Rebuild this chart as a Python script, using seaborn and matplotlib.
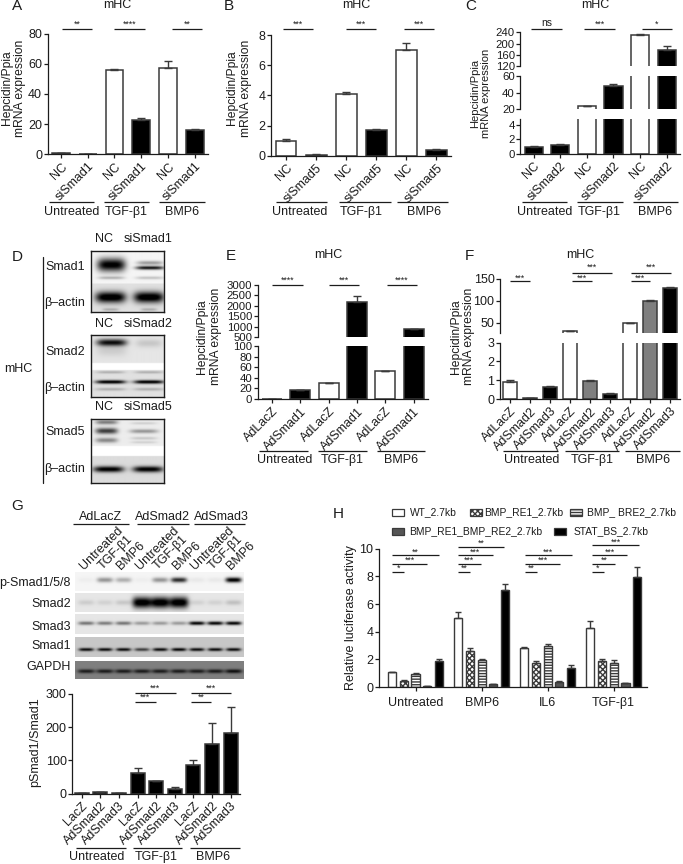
import numpy as np
import pandas as pd
import matplotlib
matplotlib.use('Agg')
import matplotlib.pyplot as plt
from matplotlib.patches import Rectangle
import seaborn as sns

W, H = 683, 864
INK = '#1c1c1c'
EDGE = '#3a3a3a'
GREY = '#7f7f7f'

# Panel data
a_labels = ['NC', 'siSmad1'] * 3
a_vals = [0.8, 0.3, 56, 22.5, 57, 16]
a_errs = [0.1, 0.1, 0.5, 1.5, 5, 1]

b_labels = ['NC', 'siSmad5'] * 3
b_vals = [1.0, 0.07, 4.1, 1.7, 7.0, 0.4]
b_errs = [0.08, 0.02, 0.15, 0.08, 0.5, 0.02]

c_labels = ['NC', 'siSmad2'] * 3
c_vals = [1.0, 1.2, 24, 48, 230, 176]
c_errs = [0.05, 0.1, 0.3, 2, 5, 14]

e_labels = ['AdLacZ', 'AdSmad1'] * 3
e_vals = [0.5, 17, 30, 2200, 52, 880]
e_errs = [0.2, 0.5, 0.8, 250, 0.8, 30]

f_labels = ['AdLacZ', 'AdSmad2', 'AdSmad3'] * 3
f_vals = [0.9, 0.05, 0.62, 31, 0.97, 0.27, 49, 100, 130]
f_errs = [0.1, 0.01, 0.08, 0.3, 0.03, 0.03, 1.5, 2, 1.5]

g_labels = ['LacZ', 'AdSmad2', 'AdSmad3'] * 3
g_vals = [2, 5, 3, 62, 38, 13, 85, 150, 183]
g_errs = [1, 1.5, 0.5, 15, 1, 6, 17, 62, 77]

h_groups = ['Untreated', 'BMP6', 'IL6', 'TGF-β1']
h_series = ['WT_2.7kb', 'BMP_RE1_2.7kb', 'BMP_ BRE2_2.7kb', 'BMP_RE1_BMP_RE2_2.7kb', 'STAT_BS_2.7kb']
h_vals = [[1.05, 5.0, 2.8, 4.25],
          [0.42, 2.6, 1.75, 1.9],
          [0.92, 1.95, 2.95, 1.75],
          [0.08, 0.22, 0.38, 0.28],
          [1.85, 7.0, 1.38, 7.95]]
h_errs = [[0.05, 0.42, 0.07, 0.55],
          [0.05, 0.22, 0.12, 0.1],
          [0.12, 0.05, 0.15, 0.22],
          [0.02, 0.03, 0.03, 0.02],
          [0.15, 0.42, 0.2, 0.7]]

# Blot band strengths, one per lane
g_lanes = [86, 104.7, 123.3, 141.7, 160, 178.7, 196.7, 215, 233.3]
g_psmad = [0.03, 0.38, 0.28, 0.03, 0.38, 0.8, 0.05, 0.05, 1.0]
g_smad2 = [0.1, 0.08, 0.12, 1.0, 1.0, 1.0, 0.08, 0.08, 0.15]
g_smad3 = [0.45, 0.42, 0.45, 0.3, 0.3, 0.3, 0.9, 0.9, 0.9]
g_smad1 = [0.75, 0.75, 0.75, 0.55, 0.75, 0.78, 0.75, 0.75, 0.75]
g_gapdh = [0.4, 0.4, 0.4, 0.4, 0.4, 0.4, 0.4, 0.4, 0.45]

sns.set_theme(style='ticks', rc={
    'axes.linewidth': 0.9, 'axes.edgecolor': INK,
    'xtick.major.width': 0.9, 'ytick.major.width': 0.9,
    'xtick.major.size': 3, 'ytick.major.size': 3,
    'xtick.major.pad': 1.5, 'ytick.major.pad': 1,
    'xtick.labelsize': 9, 'ytick.labelsize': 9,
    'xtick.color': INK, 'ytick.color': INK, 'text.color': INK,
    'hatch.linewidth': 1.0, 'axes.facecolor': 'none'})
plt.rcParams['font.family'] = ['Liberation Sans', 'DejaVu Sans']
plt.rcParams['font.size'] = 9

fig = plt.figure(figsize=(W / 100, H / 100), dpi=100, facecolor='white')

# overlay in image pixels for labels and brackets
ov = fig.add_axes([0, 0, 1, 1], zorder=10)
ov.set_xlim(0, W)
ov.set_ylim(H, 0)
ov.axis('off')


def px_axes(x0, x1, y0, y1):
    return fig.add_axes([x0 / W, 1 - y1 / H, (x1 - x0) / W, (y1 - y0) / H])


def txt(x, y, s, size=9, ha='center', va='center', **kw):
    ov.text(x, y, s, fontsize=size, ha=ha, va=va, color=INK, **kw)


def line(x0, x1, y, lw=0.9):
    ov.plot([x0, x1], [y, y], color=INK, lw=lw, solid_capstyle='butt')


def bracket(x0, x1, y, s, dy=5):
    line(x0, x1, y)
    if s == 'ns':
        txt((x0 + x1) / 2, y - 6, s, size=7.5)
    else:
        txt((x0 + x1) / 2, y - dy, s, size=6.3)


def group_labels(groups, yline, ytext):
    for name, xc, x0, x1 in groups:
        line(x0, x1, yline)
        txt(xc, ytext, name)


def draw_bars(ax, vals, errs, colors, width, ylim):
    df = pd.DataFrame({'pos': range(len(vals)), 'val': vals})
    sns.barplot(data=df, x='pos', y='val', hue='pos', palette=colors, errorbar=None,
                width=width, edgecolor=EDGE, linewidth=1.1, legend=False, ax=ax)
    ax.errorbar(range(len(vals)), vals, yerr=[np.zeros(len(vals)), errs], fmt='none',
                ecolor=EDGE, elinewidth=1.0, capsize=3.2, capthick=1.0)
    ax.set_xlim(-0.5, len(vals) - 0.5)
    ax.set_ylim(*ylim)
    ax.set_xlabel('')
    ax.set_ylabel('')
    sns.despine(ax=ax)


def set_xt(ax, labels):
    ax.set_xticks(range(len(labels)))
    ax.set_xticklabels(labels, rotation=45, ha='right', va='top', rotation_mode='anchor', fontsize=9)


def seg_axes(x0, x1, segs, vals, errs, colors, width, labels, ysize=9):
    # segs run top to bottom: (ytop, ybottom, ylim, ticks)
    for i, (y0, y1, ylim, ticks) in enumerate(segs):
        ax = px_axes(x0, x1, y0, y1)
        draw_bars(ax, vals, errs, colors, width, ylim)
        ax.set_yticks(ticks)
        ax.tick_params(axis='y', labelsize=ysize)
        if i == len(segs) - 1:
            set_xt(ax, labels)
        else:
            ax.spines['bottom'].set_visible(False)
            ax.tick_params(axis='x', bottom=False, labelbottom=False)


def blot(x0, x1, y0, y1, regions, bands, frame=False):
    xs = np.arange(x0, x1, 0.5)
    ys = np.arange(y0, y1, 0.5)
    xx, yy = np.meshgrid(xs, ys)
    img = np.full(xx.shape, 0.96)
    for r0, r1, v in regions:
        img[(yy >= r0) & (yy < r1)] = v
    for cx, cy, hw, hh, s in bands:
        img -= s * np.exp(-((xx - cx) / hw) ** 4) * np.exp(-((yy - cy) / hh) ** 2)
    ax = px_axes(x0, x1, y0, y1)
    ax.imshow(np.clip(img, 0, 1), cmap='gray', vmin=0, vmax=1, aspect='auto',
              extent=[x0, x1, y1, y0], interpolation='bilinear')
    ax.set_xticks([])
    ax.set_yticks([])
    for sp in ax.spines.values():
        sp.set_visible(frame)
        sp.set_linewidth(1.0)


pair_colors = ['white', 'black'] * 3

# A
ax = px_axes(47.7, 208, 33.7, 154.3)
draw_bars(ax, a_vals, a_errs, pair_colors, 0.67, (0, 80))
ax.set_yticks([0, 20, 40, 60, 80])
set_xt(ax, a_labels)
# B
ax = px_axes(271, 451.5, 35.3, 155.7)
draw_bars(ax, b_vals, b_errs, pair_colors, 0.69, (0, 8))
ax.set_yticks([0, 2, 4, 6, 8])
set_xt(ax, b_labels)
# C, broken axis
seg_axes(520.3, 680, [(32.3, 66.3, (120, 240), [120, 160, 200, 240]),
                      (76, 109.3, (20, 60), [20, 40, 60]),
                      (119, 153.7, (0, 4.84), [0, 2, 4])],
         c_vals, c_errs, ['black', 'black', 'white', 'black', 'white', 'black'], 0.68, c_labels, ysize=8.2)
# E, broken axis
seg_axes(257.7, 428, [(284.7, 337.3, (500, 3000), [500, 1000, 1500, 2000, 2500, 3000]),
                      (346, 399, (0, 100), [0, 20, 40, 60, 80, 100])],
         e_vals, e_errs, pair_colors, 0.7, e_labels, ysize=8.2)
# F, broken axis
seg_axes(500, 680, [(278.7, 333.3, (26, 150), [50, 100, 150]),
                    (342.7, 399, (0, 3), [0, 1, 2, 3])],
         f_vals, f_errs, ['white', GREY, 'black'] * 3, 0.7, f_labels)
# G quantification
ax = px_axes(72.3, 240, 693.7, 793.7)
draw_bars(ax, g_vals, g_errs, ['black'] * 9, 0.75, (0, 300))
ax.set_yticks([0, 100, 200, 300])
set_xt(ax, g_labels)

# H luciferase
ax = px_axes(379, 646.7, 548.7, 687)
h_df = pd.DataFrame({'group': np.tile(h_groups, 5), 'series': np.repeat(h_series, 4),
                     'val': np.ravel(h_vals)})
h_colors = ['white', 'white', 'white', '#555555', 'black']
h_hatch = ['', 'XXXXXX', '------', '', '']
sns.barplot(data=h_df, x='group', y='val', hue='series', order=h_groups, hue_order=h_series,
            palette=h_colors, errorbar=None, width=0.884, gap=0.29, edgecolor=EDGE, linewidth=1.0,
            legend=False, ax=ax)
for cont, hatch, vals, errs in zip(ax.containers, h_hatch, h_vals, h_errs):
    xs = [p.get_x() + p.get_width() / 2 for p in cont]
    for p in cont:
        p.set_hatch(hatch)
    ax.errorbar(xs, vals, yerr=[np.zeros(4), errs], fmt='none', ecolor=EDGE,
                elinewidth=1.0, capsize=2.4, capthick=1.0)
ax.set_xlim(-0.555, 3.5)
ax.set_ylim(0, 10)
ax.set_yticks([0, 2, 4, 6, 8, 10])
ax.set_xlabel('')
ax.set_ylabel('')
ax.tick_params(axis='x', labelsize=9, pad=4)
sns.despine(ax=ax)

# H legend
for x, y, fc, hatch in [(391.7, 512.3, 'white', ''), (470, 512.3, 'white', 'XXXXXX'),
                        (570, 512.3, 'white', '------'), (391.7, 531.3, '#555555', ''),
                        (554.3, 531.3, 'black', '')]:
    ov.add_patch(Rectangle((x, y - 3.3), 12, 6.6, fc=fc, ec=EDGE, lw=0.9, hatch=hatch))
for x, y, s in [(410, 512, h_series[0]), (484.5, 512.5, h_series[1]), (586.7, 512.5, h_series[2]),
                (409.5, 531.5, h_series[3]), (573.3, 531, h_series[4])]:
    txt(x, y, s, size=7.4, ha='left')

# Panel letters and titles
for x, y, s in [(17, 6, 'A'), (229, 6, 'B'), (471, 6, 'C'), (17, 257, 'D'), (231, 256, 'E'),
                (469.5, 256, 'F'), (17, 506, 'G'), (338, 514, 'H')]:
    txt(x, y, s, size=11)
for x, y in [(117, 5), (356, 5), (595, 5), (328.3, 255), (580.7, 255)]:
    txt(x, y, 'mHC', size=9)

# y labels
yl = 'Hepcidin/Ppia\nmRNA expression'
for x, y, size in [(13.5, 88, 8.7), (239, 88, 8.7), (480.5, 93, 8), (209, 336.7, 8.7), (462.5, 336.7, 8.7)]:
    txt(x, y, yl, size=size, rotation=90, linespacing=1.2)
txt(35, 741.7, 'pSmad1/Smad1', rotation=90)
txt(350.7, 618, 'Relative luciferase activity', rotation=90)

# Group labels under the bars
group_labels([('Untreated', 71.7, 49.3, 94.3), ('TGF-β1', 126, 104, 149.3), ('BMP6', 182.3, 159.3, 205)], 202, 211.7)
group_labels([('Untreated', 299.3, 276, 327.3), ('TGF-β1', 361.7, 339.3, 390.7), ('BMP6', 424.3, 396.7, 448.3)], 202, 211.7)
group_labels([('Untreated', 544.3, 522.3, 567.3), ('TGF-β1', 599.3, 577.3, 622.7), ('BMP6', 655, 632.7, 678)], 202, 211.7)
group_labels([('Untreated', 284.3, 259, 307.7), ('TGF-β1', 342.3, 317.7, 366.7), ('BMP6', 400.7, 376.7, 425)], 450.7, 460)
group_labels([('Untreated', 531.7, 503.3, 557.7), ('TGF-β1', 592.3, 565, 619), ('BMP6', 653.3, 625, 680)], 450.7, 460)
group_labels([('Untreated', 96.7, 76, 125.7), ('TGF-β1', 156.7, 132.7, 181.7), ('BMP6', 213.3, 190, 240)], 847.7, 857.3)

# Significance brackets
for x0, x1, y, s in [(61.7, 91.7, 29, '**'), (114.3, 145, 29, '****'), (171.7, 202, 29, '**'),
                     (283.3, 313.3, 29, '***'), (345.7, 376, 29, '***'), (404, 434.3, 29, '***'),
                     (531.3, 561.7, 29, 'ns'), (584.3, 615, 29, '***'), (641.7, 672, 29, '*'),
                     (272, 302.7, 285, '****'), (328.7, 359, 285, '***'), (386.7, 417, 285, '****'),
                     (571.7, 611.7, 272.7, '***'), (630.7, 670.7, 272.7, '***'),
                     (135, 175.7, 693, '***'), (135, 155.7, 702, '***'),
                     (191, 231.3, 693, '***'), (191, 211.3, 702, '**')]:
    bracket(x0, x1, y, s)
for x0, x1, y, s in [(510.3, 530, 281, '***'), (571.7, 591.7, 281, '***'), (630.7, 650, 281, '***'),
                     (392.3, 439, 555, '**'), (392.3, 427.3, 563.7, '***'), (392.3, 404, 571.7, '*'),
                     (457.7, 504.3, 546.7, '**'), (457.7, 492.7, 555, '***'), (457.7, 481, 563.7, '***'),
                     (457.7, 469.7, 571.7, '**'),
                     (525, 571.7, 555, '***'), (525, 560, 563.7, '***'), (525, 536.7, 571.7, '**'),
                     (592.3, 639, 545, '***'), (592.3, 627, 555, '***'), (592.3, 615.3, 563.7, '**'),
                     (592.3, 603.7, 571.7, '*')]:
    bracket(x0, x1, y, s, dy=3)

# D blots
blot(90.7, 164, 250.7, 311.7, [(283, 311.7, 0.88)],
     [(110.7, 264.3, 14, 6.5, 1.0), (149, 267.3, 14, 1.8, 0.9), (149, 262.3, 13, 2, 0.35),
      (110.7, 277.3, 13, 1.5, 0.25), (149, 277.3, 14, 1.5, 0.2),
      (110, 296.7, 15, 5.5, 1.0), (148, 296.7, 15, 5.5, 1.0), (110, 309, 8, 1.5, 0.2), (148, 309, 8, 1.5, 0.2)], True)
blot(90.7, 164, 335, 396.7, [(335, 363, 0.9), (363, 370, 1.0), (370, 396.7, 0.88)],
     [(111, 342.3, 15, 3.5, 0.85), (111, 350, 15, 6, 0.1), (148, 343, 13, 4, 0.12),
      (110, 381.7, 15, 1.8, 0.95), (148, 381.7, 15, 1.8, 0.95), (110, 372, 14, 1.3, 0.2), (148, 372, 14, 1.3, 0.2),
      (110, 389, 15, 1.5, 0.2), (148, 389, 15, 1.5, 0.2)], True)
blot(90.7, 164, 419, 483, [(419, 445.7, 0.93), (445.7, 456, 1.0), (456, 483, 0.86)],
     [(106, 430.7, 11, 3, 0.7), (106, 422, 11, 2.2, 0.45), (106, 440, 11, 2.5, 0.4),
      (143, 431, 14, 2, 0.35), (143, 423, 13, 1.3, 0.12), (143, 438, 13, 1.5, 0.15), (143, 442, 13, 1.2, 0.12),
      (108, 469, 15, 3, 0.9), (147, 469, 15, 3, 0.9)], True)
for x, y, s in [(104, 239, 'NC'), (147.7, 239, 'siSmad1'), (104, 324, 'NC'), (147.7, 324, 'siSmad2'),
                (104, 406.7, 'NC'), (147.7, 406.7, 'siSmad5')]:
    txt(x, y, s)
for y, s in [(266.7, 'Smad1'), (303, 'β–actin'), (351.7, 'Smad2'), (388, 'β–actin'),
             (431.7, 'Smad5'), (469, 'β–actin')]:
    txt(85, y, s, ha='right')
ov.plot([43.3, 43.3], [256.7, 483], color=INK, lw=0.9)
txt(18, 369, 'mHC')

# G blots
blot(75, 244, 572.3, 591, [], [(x, 580, 8, 2.5, s) for x, s in zip(g_lanes, g_psmad)])
blot(75, 244, 592.7, 611.7, [(592.7, 611.7, 0.9)],
     [(x, 602, 9.5 if s > 0.5 else 8, 5.5 if s > 0.5 else 2.5, s) for x, s in zip(g_lanes, g_smad2)])
blot(75, 244, 614, 634, [(614, 634, 0.9)], [(x, 623, 8, 1.8, s) for x, s in zip(g_lanes, g_smad3)])
blot(75, 244, 636.7, 656.7, [(636.7, 656.7, 0.78)], [(x, 649, 7.5, 1.6, s) for x, s in zip(g_lanes, g_smad1)])
blot(75, 244, 660.7, 679.3, [(660.7, 679.3, 0.5)], [(x, 671.7, 8.5, 2, s) for x, s in zip(g_lanes, g_gapdh)])
for y, s in [(582.7, 'p-Smad1/5/8'), (604, 'Smad2'), (626.7, 'Smad3'), (645.7, 'Smad1'), (667.3, 'GAPDH')]:
    txt(71, y, s, ha='right')
for s, xc, x0, x1 in [('AdLacZ', 101, 73.3, 129), ('AdSmad2', 162.7, 136.7, 189), ('AdSmad3', 221, 194, 245)]:
    txt(xc, 516.7, s)
    line(x0, x1, 524.3)
for x, s in zip(g_lanes, ['Untreated', 'TGF-β1', 'BMP6'] * 3):
    ov.text(x, 572, s, fontsize=9, rotation=45, ha='left', va='bottom', rotation_mode='anchor', color=INK)

fig.savefig('out.png', dpi=100)
